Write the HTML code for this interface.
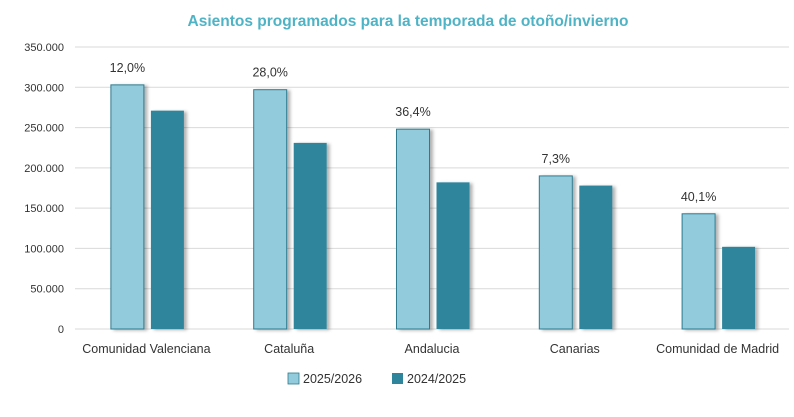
<!DOCTYPE html>
<html><head><meta charset="utf-8"><style>
body{margin:0;background:#fff;font-family:"Liberation Sans",sans-serif;}
svg text{font-family:"Liberation Sans",sans-serif;}
</style></head><body>
<svg width="794" height="412" viewBox="0 0 794 412">
<defs><filter id="sh" x="-20%" y="-5%" width="150%" height="110%"><feDropShadow dx="3" dy="1" stdDeviation="1.5" flood-color="#000" flood-opacity="0.3"/></filter></defs>
<text x="408" y="26" text-anchor="middle" font-size="15.5" font-weight="bold" fill="#4fb3c6">Asientos programados para la temporada de otoño/invierno</text>
<g id="grid"></g><g id="bars"></g><g id="labels"></g>
<g>
<rect x="288" y="373" width="11" height="11" fill="#92cbdc" stroke="#2d7a8f" stroke-width="0.8"/>
<text x="303" y="383" font-size="12.5" fill="#333">2025/2026</text>
<rect x="392" y="373" width="11" height="11" fill="#2e859c"/>
<text x="407" y="383" font-size="12.5" fill="#333">2024/2025</text>
</g>
</svg>
<script>
const categories=["Comunidad Valenciana","Cataluña","Andalucia","Canarias","Comunidad de Madrid"];
const s2025=[303000,297000,248000,190000,143000];
const s2024=[271000,231000,182000,178000,102000];
const pctLabels=["12,0%","28,0%","36,4%","7,3%","40,1%"];
const ticks=[0,50000,100000,150000,200000,250000,300000,350000];
const tickLabels=["0","50.000","100.000","150.000","200.000","250.000","300.000","350.000"];
const NS="http://www.w3.org/2000/svg";
const x0=75,x1=789,yb=329,yt=47,vmax=350000;
const y=v=>yb-(v/vmax)*(yb-yt);
const bw=(x1-x0)/categories.length;
const cx=i=>x0+bw*(i+0.5)+1;
function mk(t,a,p){const e=document.createElementNS(NS,t);for(const k in a)e.setAttribute(k,a[k]);p.appendChild(e);return e;}
const G=document.getElementById('grid'),B=document.getElementById('bars'),L=document.getElementById('labels');
ticks.forEach((t,i)=>{
 const l=mk('line',{x1:x0,x2:x1,y1:y(t),y2:y(t),stroke:'#d9d9d9','stroke-width':1},G);
 
 
 const tx=mk('text',{x:64,y:y(t)+4,'text-anchor':'end','font-size':11,fill:'#333'},G);
 tx.textContent=tickLabels[i];
 
 
});
categories.forEach((c,i)=>{
 const a=mk('rect',{x:cx(i)-36.5,y:y(s2025[i]),width:33,height:yb-y(s2025[i]),fill:'#92cbdc',stroke:'#2d7a8f','stroke-width':1,filter:'url(#sh)'},B);
 
 
 const b=mk('rect',{x:cx(i)+3.5,y:y(s2024[i]),width:33,height:yb-y(s2024[i]),fill:'#2e859c',filter:'url(#sh)'},B);
 
 
 const p=mk('text',{x:cx(i)-20,y:y(s2025[i])-13,'text-anchor':'middle','font-size':12.5,fill:'#333'},L);
 p.textContent=pctLabels[i];
 
 
 const t=mk('text',{x:cx(i)-1,y:353,'text-anchor':'middle','font-size':12.5,fill:'#333'},L);
 t.textContent=c;
 
 
});
</script>
</body></html>
